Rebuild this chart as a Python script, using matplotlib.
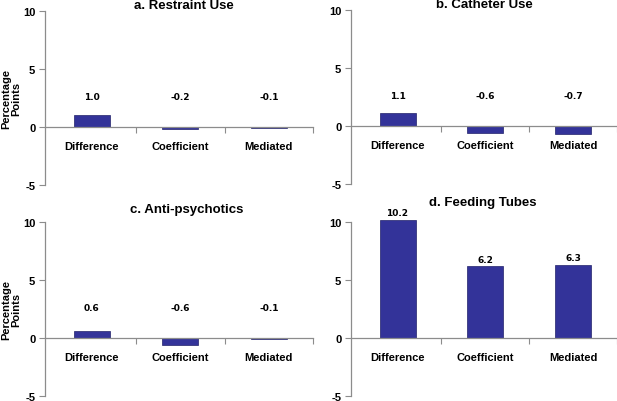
import matplotlib
matplotlib.use("Agg")
from matplotlib import pyplot as plt
from matplotlib.ticker import FixedLocator

categories = ["Difference", "Coefficient", "Mediated"]
titles = ["a. Restraint Use", "b. Catheter Use", "c. Anti-psychotics", "d. Feeding Tubes"]
restraint = [1.0, -0.2, -0.1]
catheter = [1.1, -0.6, -0.7]
antipsych = [0.6, -0.6, -0.1]
feeding = [10.2, 6.2, 6.3]
yticks = [-5, 0, 5, 10]

panels = [restraint, catheter, antipsych, feeding]
# axes boxes in pixels: left, top, right, bottom
boxes = [(45, 12, 313, 186), (351, 11, 617, 185),
         (45, 223, 313, 397), (351, 223, 617, 397)]
# title x (axes fraction) and pad (points)
title_pos = [(0.52, 1.0), (0.50, 1.0), (0.53, 7.5), (0.495, 12)]

W, H = 617, 402
fig = plt.figure(figsize=(W / 100, H / 100), dpi=100)
bold = "Liberation Sans"
grey = "#8c8c8c"

for i, (vals, title, box) in enumerate(zip(panels, titles, boxes)):
    l, t, r, b = box
    ax = fig.add_axes([l / W, 1 - b / H, (r - l) / W, (b - t) / H])
    x = range(len(categories))
    ax.bar(x, vals, width=0.41, color="#333399", edgecolor="#22226a",
           linewidth=0.5, clip_on=False, zorder=3)
    ax.set_xlim(-0.53, 2.5)
    ax.set_ylim(-5, 10)
    ax.set_yticks(yticks)
    ax.set_yticklabels([str(v) for v in yticks], fontfamily=bold,
                       fontweight="bold", fontsize=8)
    ax.tick_params(axis="y", direction="out", length=4, width=0.8,
                   color=grey, pad=3)

    for s in ["top", "right"]:
        ax.spines[s].set_visible(False)
    ax.spines["left"].set_color(grey)
    ax.spines["left"].set_linewidth(0.9)
    ax.spines["bottom"].set_position(("data", 0))
    ax.spines["bottom"].set_color(grey)
    ax.spines["bottom"].set_linewidth(0.9)
    ax.spines["bottom"].set_zorder(4)

    ax.set_xticks(list(x))
    ax.set_xticklabels(categories, fontfamily=bold, fontweight="bold",
                       fontsize=8)
    ax.xaxis.set_minor_locator(FixedLocator([0.5, 1.5, 2.5]))
    ax.tick_params(axis="x", which="major", length=0, pad=10)
    ax.tick_params(axis="x", which="minor", direction="out", length=4,
                   width=0.8, color=grey)

    for xi, v in zip(x, vals):
        ax.text(xi, max(v + 0.6, 2.6), f"{v:.1f}", ha="center", va="center",
                fontfamily="DejaVu Sans", fontweight="bold", fontsize=6.5)

    tx, tpad = title_pos[i]
    ax.set_title(title, fontfamily=bold, fontweight="bold", fontsize=9.5,
                 pad=tpad, x=tx)
    if i % 2 == 0:
        ax.set_ylabel("Percentage\nPoints", fontfamily=bold,
                      fontweight="bold", fontsize=8, labelpad=1,
                      linespacing=1.0)

fig.savefig("out.png", dpi=100)
